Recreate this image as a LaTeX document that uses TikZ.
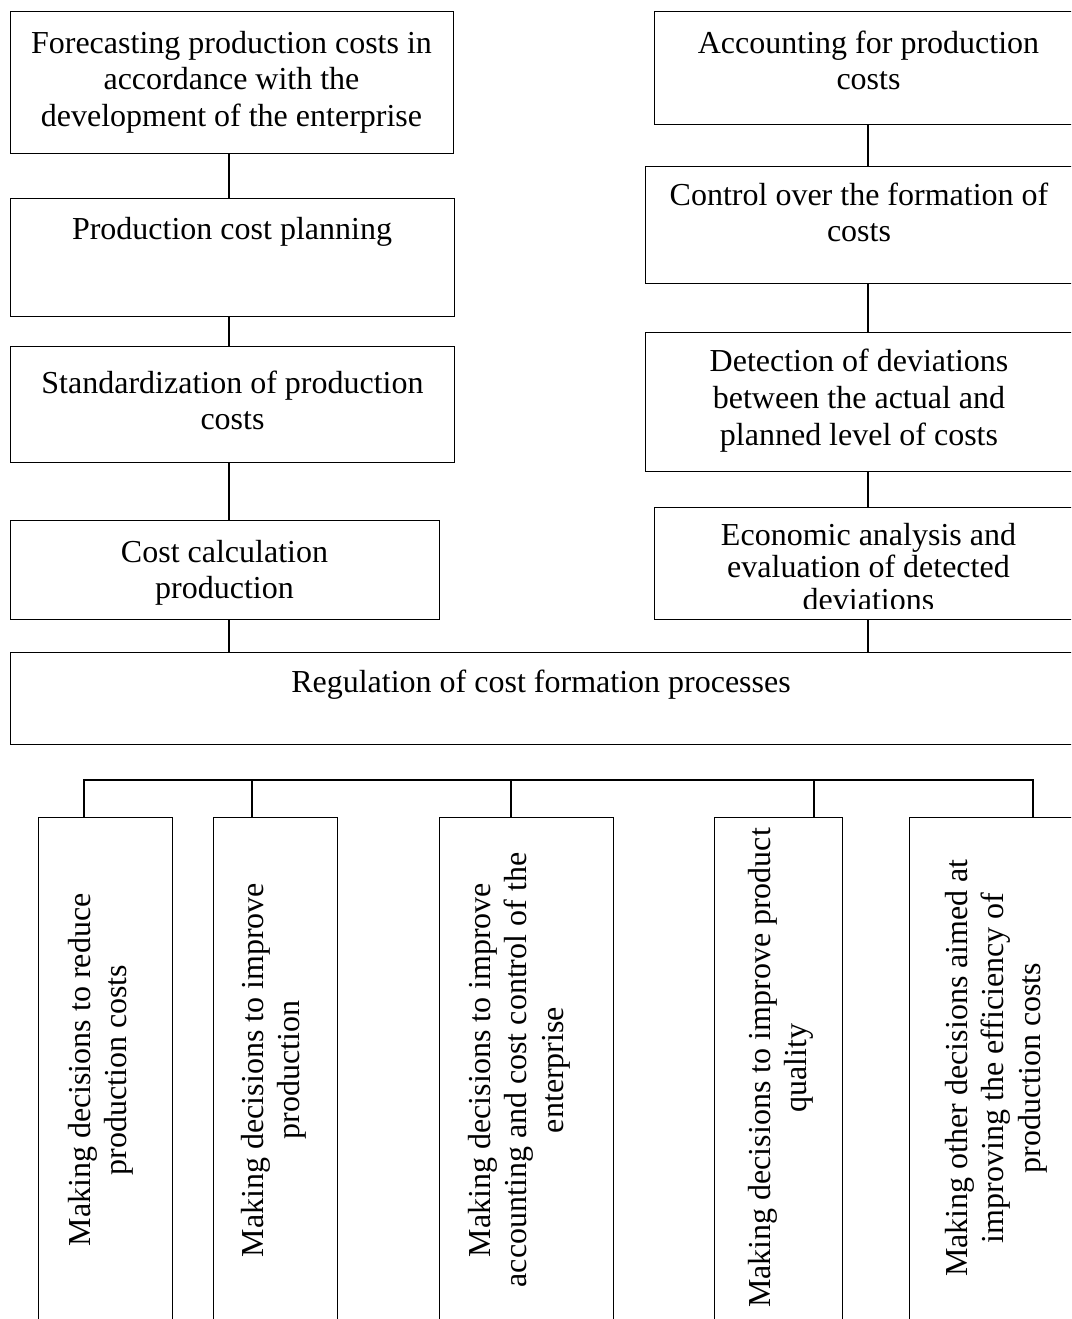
\documentclass[tikz,border=0pt]{standalone}
\usepackage{fontspec}
\setmainfont{Liberation Serif}
\begin{document}
\begin{tikzpicture}[x=1pt,y=-1pt,
  box/.style={draw, line width=1.3pt, rectangle, inner sep=0pt, anchor=north west},
  txt/.style={align=center, inner sep=0pt, anchor=north, font=\fontsize{32}{36.8}\selectfont},
  tighttxt/.style={align=center, inner sep=0pt, anchor=north, font=\fontsize{32}{32.8}\selectfont},
  vtxt/.style={txt, rotate=90},
  link/.style={line width=1.3pt}]
\useasboundingbox (0,0) rectangle (1071,1319);
\clip (0,0) rectangle (1071,1319);

% left column: planning chain
\node[box, minimum width=443pt, minimum height=142pt] (f1) at (10,11) {};
\node[box, minimum width=444pt, minimum height=118pt] (f2) at (10,197.5) {};
\node[box, minimum width=444pt, minimum height=116pt] (f3) at (10,346) {};
\node[box, minimum width=429pt, minimum height=99pt]  (f4) at (10,520) {};

% right column: accounting and control chain
\node[box, minimum width=430pt, minimum height=113pt] (a1) at (654,11) {};
\node[box, minimum width=440pt, minimum height=117pt] (a2) at (645,166) {};
\node[box, minimum width=440pt, minimum height=139pt] (a3) at (645,332) {};
\node[box, minimum width=430pt, minimum height=112pt] (a4) at (654,507) {};

% regulation block
\node[box, minimum width=1075pt, minimum height=92pt] (reg) at (10,652) {};

% decision boxes
\node[box, minimum width=134pt, minimum height=520pt] (d1) at (38,817) {};
\node[box, minimum width=124pt, minimum height=520pt] (d2) at (213,817) {};
\node[box, minimum width=174pt, minimum height=520pt] (d3) at (439,817) {};
\node[box, minimum width=128pt, minimum height=520pt] (d4) at (714,817) {};
\node[box, minimum width=200pt, minimum height=520pt] (d5) at (909,817) {};

% texts of the upper boxes
\node[txt] (tf1) at (231.5,27.2) {\strut Forecasting production costs in\\accordance with the\\development of the enterprise};
\node[txt] (tf2) at (232,214) {\strut Production cost planning};
\node[txt] (tf3) at (232.5,367.2) {\strut Standardization of production\\costs};
\node[txt] (tf4) at (224.5,536.2) {\strut Cost calculation\\production};
\node[txt] (ta1) at (868.5,27.2) {\strut Accounting for production\\costs};
\node[txt] (ta2) at (859,179.2) {\strut Control over the formation of\\costs};
\node[txt] (ta3) at (859,345.7) {\strut Detection of deviations\\between the actual and\\planned level of costs};
\begin{scope}
  \clip (654,507) rectangle (1084,608);
  \node[tighttxt] (ta4) at (868.5,522.0) {\strut Economic analysis and\\evaluation of detected\\deviations};
\end{scope}
\node[txt] (treg) at (541,666.2) {\strut Regulation of cost formation processes};

% texts of the decision boxes, set upright
\node[vtxt] (td1) at (64.2,1070) {\strut Making decisions to reduce\\production costs};
\node[vtxt] (td2) at (237.2,1070) {\strut Making decisions to improve\\production};
\node[vtxt] (td3) at (464.2,1070) {\strut Making decisions to improve\\accounting and cost control of the\\enterprise};
\node[vtxt] (td4) at (744.2,1068) {\strut Making decisions to improve product\\quality};
\node[vtxt] (td5) at (941.2,1068) {\strut Making other decisions aimed at\\improving the efficiency of\\production costs};

% connector axes
\coordinate (cL) at (229,0);
\coordinate (cR) at (868,0);
\coordinate (bus) at (0,780);
\coordinate (x1) at (84,0);
\coordinate (x2) at (252,0);
\coordinate (x3) at (511,0);
\coordinate (x4) at (814,0);
\coordinate (x5) at (1033,0);

\draw[link] (f1.south -| cL) -- (f2.north -| cL);
\draw[link] (f2.south -| cL) -- (f3.north -| cL);
\draw[link] (f3.south -| cL) -- (f4.north -| cL);
\draw[link] (f4.south -| cL) -- (reg.north -| cL);
\draw[link] (a1.south -| cR) -- (a2.north -| cR);
\draw[link] (a2.south -| cR) -- (a3.north -| cR);
\draw[link] (a3.south -| cR) -- (a4.north -| cR);
\draw[link] (a4.south -| cR) -- (reg.north -| cR);

% distribution bus to the decision boxes
\draw[link] (d1.north -| x1) -- (bus -| x1) -- (bus -| x5) -- (d5.north -| x5);
\draw[link] (d2.north -| x2) -- (bus -| x2);
\draw[link] (d3.north -| x3) -- (bus -| x3);
\draw[link] (d4.north -| x4) -- (bus -| x4);
\end{tikzpicture}
\end{document}
